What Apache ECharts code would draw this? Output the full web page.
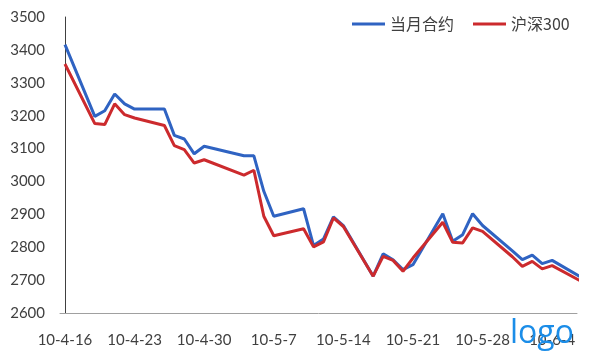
<!DOCTYPE html>
<html>
<head>
<meta charset="utf-8">
<script src="https://cdn.jsdelivr.net/npm/echarts@6/dist/echarts.min.js"></script>
<style>html,body{margin:0;padding:0;background:#fff;}#c{width:600px;height:360px;}</style>
</head>
<body>
<div id="c"></div>
<script>
// Trading-day offsets (calendar days after 2010-04-16)
const days = [0,3,4,5,6,7,10,11,12,13,14,18,19,20,21,24,25,26,27,28,31,32,33,34,35,38,39,40,41,42,45,46,47,48,49,52];
// 当月合约
const futures = [3416,3198,3215,3266,3236,3220,3220,3140,3129,3084,3107,3078,3078,2970,2894,2917,2805,2825,2892,2866,2712,2780,2762,2732,2747,2902,2818,2838,2902,2866,2789,2762,2776,2750,2760,2707];
// 沪深300
const hs300 = [3357,3176,3173,3236,3203,3193,3170,3109,3097,3056,3066,3019,3034,2894,2835,2856,2801,2816,2889,2863,2712,2772,2760,2727,2767,2876,2815,2813,2859,2848,2771,2742,2757,2734,2744,2695];
const tickDays = [0,7,14,21,28,35,42,49];
const tickLabels = ['10-4-16','10-4-23','10-4-30','10-5-7','10-5-14','10-5-21','10-5-28','10-6-4'];
const seriesNames = ['当月合约','沪深300'];

const chart = echarts.init(document.getElementById('c'));
const pair = arr => days.map((d, i) => [d, arr[i]]);
chart.setOption({
  animation: false,
  backgroundColor: '#fff',
  grid: { left: 60, right: 23, top: 17, bottom: 47, containLabel: false },
  legend: {
    data: seriesNames,
    left: 352, top: 16, padding: 0,
    icon: 'rect', itemWidth: 33, itemHeight: 3, itemGap: 19,
    textStyle: { fontFamily: 'Noto Sans CJK SC', fontSize: 16, color: '#404040' }
  },
  xAxis: {
    type: 'value', min: -0.5, max: 51.5,
    axisLine: { show: true, onZero: false, lineStyle: { color: '#a0a0a0', width: 1 } },
    axisTick: { show: false },
    splitLine: { show: false },
    axisLabel: {
      customValues: tickDays,
      formatter: v => { const i = tickDays.indexOf(v); return i >= 0 ? tickLabels[i] : ''; },
      margin: 20, fontFamily: 'Lato', fontSize: 15, color: '#404040'
    }
  },
  yAxis: {
    type: 'value', min: 2600, max: 3500, interval: 100,
    axisLine: { show: true, lineStyle: { color: '#404040', width: 1 } },
    axisTick: { show: false },
    splitLine: { show: false },
    axisLabel: { margin: 15, fontFamily: 'Lato', fontSize: 15, color: '#404040', formatter: v => String(v) }
  },
  series: [
    { name: seriesNames[0], type: 'line', data: pair(futures), symbol: 'none', clip: true,
      lineStyle: { color: '#2f63c2', width: 3 }, itemStyle: { color: '#2f63c2' } },
    { name: seriesNames[1], type: 'line', data: pair(hs300), symbol: 'none', clip: true,
      lineStyle: { color: '#cc2a2d', width: 3 }, itemStyle: { color: '#cc2a2d' } }
  ],
  graphic: [
    { type: 'text', left: 510, top: 318, z: 100,
      style: { text: 'logo', fontFamily: 'Open Sans', fontSize: 32, fill: '#1b8de8' } }
  ]
});
</script>
</body>
</html>
